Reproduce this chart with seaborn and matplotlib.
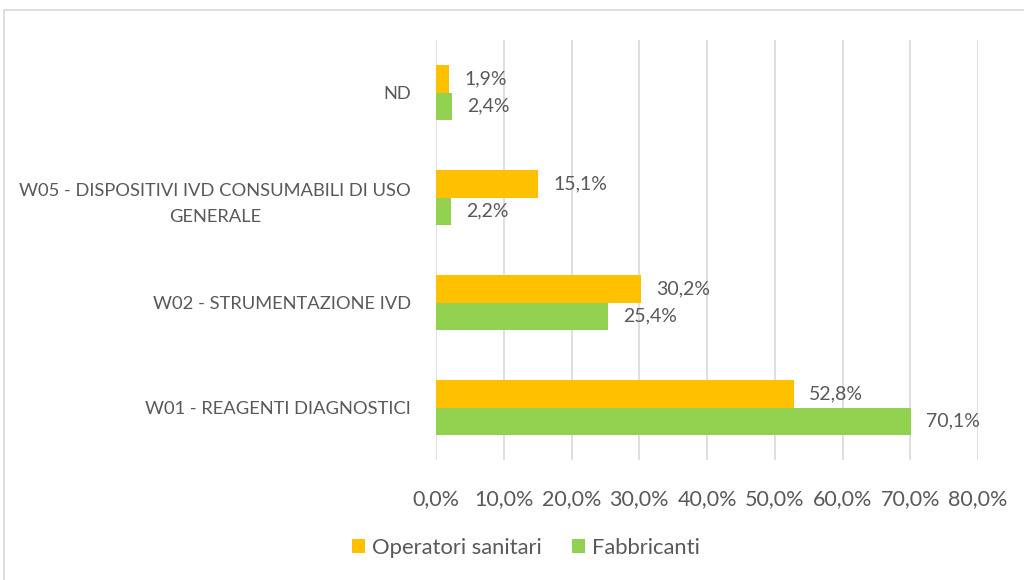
import matplotlib
matplotlib.use("Agg")
import matplotlib.pyplot as plt
from matplotlib.patches import Rectangle, Patch
import seaborn as sns
import pandas as pd

categories = [
    "ND",
    "W05 - DISPOSITIVI IVD CONSUMABILI DI USO\nGENERALE",
    "W02 - STRUMENTAZIONE IVD",
    "W01 - REAGENTI DIAGNOSTICI",
]
operatori = [1.9, 15.1, 30.2, 52.8]
fabbricanti = [2.4, 2.2, 25.4, 70.1]
series_names = ["Operatori sanitari", "Fabbricanti"]
x_ticks = [0, 10, 20, 30, 40, 50, 60, 70, 80]

colors = {"Operatori sanitari": "#FFC000", "Fabbricanti": "#92D050"}
text_color = "#595959"

sns.set_theme(style="white")
plt.rcParams["font.family"] = ["Lato", "DejaVu Sans"]

df = pd.DataFrame({
    "categoria": categories * 2,
    "serie": [series_names[0]] * 4 + [series_names[1]] * 4,
    "valore": operatori + fabbricanti,
})

fig = plt.figure(figsize=(10.24, 5.8), dpi=100)
ax = fig.add_axes([436 / 1024, 1 - 460 / 580, (978 - 436) / 1024, 420 / 580])

sns.barplot(
    data=df, y="categoria", x="valore", hue="serie",
    order=categories, hue_order=series_names, palette=colors,
    orient="h", width=0.525, gap=0, errorbar=None, saturation=1,
    edgecolor="none", linewidth=0, ax=ax, legend=False,
)

ax.set_xlim(0, 80)
ax.set_xticks(x_ticks)
ax.set_xticklabels([f"{t:.1f}%".replace(".", ",") for t in x_ticks],
                   fontsize=15.5, color=text_color)
ax.tick_params(axis="x", length=0, pad=21)
ax.tick_params(axis="y", length=0, pad=18, labelsize=13.2, labelcolor=text_color)
for lbl in ax.get_yticklabels():
    lbl.set_multialignment("center")
    lbl.set_linespacing(1.75)
ax.set_xlabel("")
ax.set_ylabel("")
ax.grid(axis="x", color="#D9D9D9", linewidth=1.2)
ax.set_axisbelow(True)
for s in ax.spines.values():
    s.set_visible(False)

# value labels at the end of each bar
for container in ax.containers:
    ax.bar_label(container,
                 labels=[f"{v:.1f}%".replace(".", ",") for v in container.datavalues],
                 padding=11, fontsize=14, color=text_color)

# legend below the plot
handles = [Patch(facecolor=colors[n], edgecolor="none") for n in series_names]
fig.legend(handles, series_names, loc="center", bbox_to_anchor=(526 / 1024, 1 - 548 / 580),
           ncol=2, frameon=False, fontsize=15.8, handlelength=0.6, handleheight=0.6,
           handletextpad=0.3, columnspacing=1.4, labelcolor=text_color)

# chart frame
fig.patches.append(Rectangle((4 / 1024, -0.01), 1.02, 1 - 10 / 580 + 0.01,
                             transform=fig.transFigure, fill=False,
                             edgecolor="#D9D9D9", linewidth=1.2))

fig.savefig("out.png", dpi=100)
